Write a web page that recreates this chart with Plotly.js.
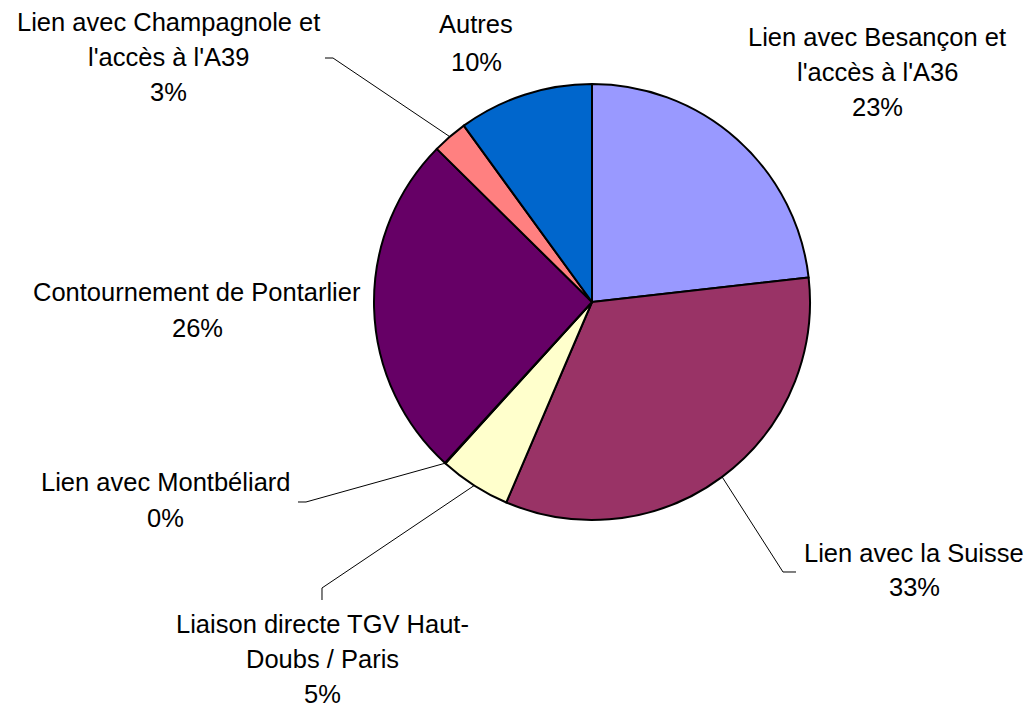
<!DOCTYPE html>
<html>
<head>
<meta charset="utf-8">
<script src="https://cdn.plot.ly/plotly-3.0.1.min.js"></script>
<style>
html, body { margin: 0; padding: 0; background: #ffffff; }
#chart { width: 1030px; height: 707px; }
</style>
</head>
<body>
<div id="chart"></div>
<script>
// ---- data ----
const categories = [
  "Lien avec Besançon et<br>l'accès à l'A36",
  "Lien avec la Suisse",
  "Liaison directe TGV Haut-<br>Doubs / Paris",
  "Lien avec Montbéliard",
  "Contournement de Pontarlier",
  "Lien avec Champagnole et<br>l'accès à l'A39",
  "Autres"
];
const values = [23.2, 33.2, 5.3, 0.05, 25.6, 2.6, 10.0];
const colors = ["#9999FF", "#993366", "#FFFFCC", "#CCFFFF", "#660066", "#FF8080", "#0066CC"];

// ---- layout helpers (pixel positions of the label blocks) ----
const W = 1030, H = 707;
const CX = 592, CY = 302, R = 218;
// label block: centre x, first baseline y, line spacing
const labelPos = [
  {x: 877, y: 46, dy: 35},
  {x: 914, y: 562, dy: 34},
  {x: 322, y: 633, dy: 35},
  {x: 165, y: 491, dy: 36},
  {x: 197, y: 301, dy: 36},
  {x: 168, y: 31, dy: 35},
  {x: 476, y: 33, dy: 38}
];
// leader line elbow points (pixels), null = no leader
const leaders = [
  null,
  [[783, 572], [796, 572]],
  [[322, 588], [322, 600]],
  [[306, 502], [298, 502]],
  null,
  [[333, 58], [325, 58]],
  null
];

const px = x => x / W;
const py = y => 1 - y / H;

const total = values.reduce((a, b) => a + b, 0);
const annotations = [];
const shapes = [];
let cum = 0;
const fontSpec = {family: "Liberation Sans, Arial, sans-serif", size: 25.5, color: "#000000"};

categories.forEach((cat, i) => {
  const frac = values[i] / total;
  const mid = (cum + frac / 2) * 2 * Math.PI; // clockwise from 12 o'clock
  cum += frac;
  const pct = Math.round(frac * 100) + "%";
  const lines = cat.split("<br>").concat([pct]);
  const lp = labelPos[i];
  lines.forEach((ln, k) => {
    const base = lp.y + k * lp.dy;
    annotations.push({
      xref: "paper", yref: "paper",
      x: px(lp.x), y: py(base - 9),
      xanchor: "center", yanchor: "middle",
      text: ln, showarrow: false, font: fontSpec
    });
  });
  if (leaders[i]) {
    const ax = CX + R * Math.sin(mid);
    const ay = CY - R * Math.cos(mid);
    const pts = [[ax, ay]].concat(leaders[i]);
    const path = pts.map((p, k) => (k === 0 ? "M" : "L") + px(p[0]).toFixed(5) + "," + py(p[1]).toFixed(5)).join(" ");
    shapes.push({
      type: "path", xref: "paper", yref: "paper", path: path,
      line: {color: "#000000", width: 1}, layer: "above"
    });
  }
});

const trace = {
  type: "pie",
  labels: categories,
  values: values,
  sort: false,
  direction: "clockwise",
  rotation: 0,
  textinfo: "none",
  hoverinfo: "label+percent",
  marker: {colors: colors, line: {color: "#000000", width: 2}},
  domain: {x: [px(CX - R), px(CX + R)], y: [py(CY + R), py(CY - R)]},
  showlegend: false
};

const layout = {
  width: W, height: H,
  margin: {l: 0, r: 0, t: 0, b: 0},
  paper_bgcolor: "#ffffff",
  plot_bgcolor: "#ffffff",
  showlegend: false,
  annotations: annotations,
  shapes: shapes
};

Plotly.newPlot("chart", [trace], layout, {displayModeBar: false, staticPlot: true});
</script>
</body>
</html>
